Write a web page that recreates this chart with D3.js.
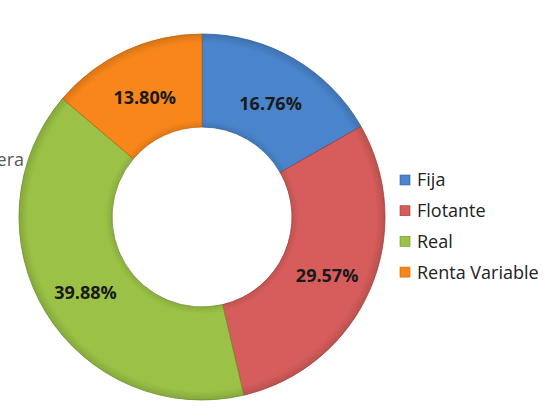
<!DOCTYPE html>
<html>
<head>
<meta charset="utf-8">
<script src="https://cdn.jsdelivr.net/npm/d3@7"></script>
<style>
  body { margin: 0; background: #fff; }
  svg { display: block; font-family: 'Open Sans', 'Liberation Sans', sans-serif; }
</style>
</head>
<body>
<div id="chart"></div>
<script>
const categories = ['Fija', 'Flotante', 'Real', 'Renta Variable']
const values = [16.76, 29.57, 39.88, 13.80]
const labels = ['16.76%', '29.57%', '39.88%', '13.80%']
const colors = ['#4a84cc', '#d65d5b', '#9bc246', '#f8861a']
const strokes = ['#2f5f99', '#a33c3a', '#6f8f2c', '#c0630c']

const width = 547
const height = 420
const cx = 202
const cy = 217
const outer = 183
const inner = 90

const svg = d3.select('#chart')
  .append('svg')
  .attr('width', width)
  .attr('height', height)

// title mostly hidden behind the left edge, as in the source
svg.append('text')
  .attr('x', 24)
  .attr('y', 166)
  .attr('text-anchor', 'end')
  .attr('fill', '#595959')
  .style('font-size', '18px')
  .text('Cartera')

const defs = svg.append('defs')
colors.forEach((c, i) => {
  const gr = defs.append('radialGradient')
    .attr('id', 'grad' + i)
    .attr('gradientUnits', 'userSpaceOnUse')
    .attr('cx', 0).attr('cy', 0).attr('r', outer)
  gr.append('stop').attr('offset', inner / outer).attr('stop-color', d3.color(c).darker(0.3))
  gr.append('stop').attr('offset', (inner + 7) / outer).attr('stop-color', c)
  gr.append('stop').attr('offset', 0.95).attr('stop-color', c)
  gr.append('stop').attr('offset', 1).attr('stop-color', d3.color(c).darker(0.4))
})

const pie = d3.pie().sort(null).value(d => d)
const arc = d3.arc().innerRadius(inner).outerRadius(outer)
const arcs = pie(values)

const g = svg.append('g').attr('transform', 'translate(' + cx + ',' + cy + ')')

g.selectAll('path')
  .data(arcs)
  .join('path')
  .attr('d', arc)
  .attr('fill', (d, i) => 'url(#grad' + i + ')')
  .attr('stroke', (d, i) => strokes[i])
  .attr('stroke-width', 0.8)

g.selectAll('text')
  .data(arcs)
  .join('text')
  .attr('transform', d => 'translate(' + arc.centroid(d) + ')')
  .attr('text-anchor', 'middle')
  .attr('dy', '0.6em')
  .attr('fill', '#1a1a1a')
  .style('font-size', '18px')
  .style('font-weight', 'bold')
  .text((d, i) => labels[i])

// legend
const legend = svg.append('g').attr('transform', 'translate(400, 180)')
const item = legend.selectAll('g')
  .data(categories)
  .join('g')
  .attr('transform', (d, i) => 'translate(0,' + i * 30.7 + ')')

item.append('rect')
  .attr('x', 0)
  .attr('y', -5)
  .attr('width', 10)
  .attr('height', 10)
  .attr('fill', (d, i) => colors[i])
  .attr('stroke', (d, i) => strokes[i])
  .attr('stroke-width', 0.6)

item.append('text')
  .attr('x', 17)
  .attr('dy', '0.36em')
  .attr('fill', '#222')
  .style('font-size', '18px')
  .text(d => d)
</script>
</body>
</html>
